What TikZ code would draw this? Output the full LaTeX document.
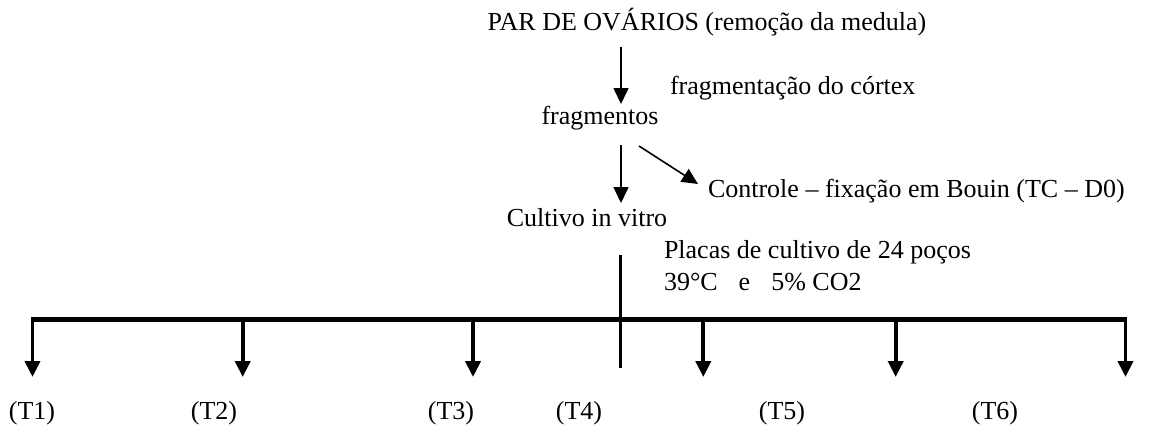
\documentclass[tikz,border=0pt]{standalone}
\usepackage{fontspec}
\setmainfont{Liberation Serif}
\usetikzlibrary{arrows.meta}
\begin{document}
\begin{tikzpicture}[x=1pt,y=-1pt,
  txt/.style={font=\fontsize{26}{31}\selectfont, inner sep=0pt, outer sep=0pt},
  thinarrow/.style={line width=1.6pt, -{Triangle[length=16pt,width=15pt]}},
  thickarrow/.style={line width=3.8pt, -{Triangle[length=16pt,width=15pt]}},
  mainbar/.style={line width=5.3pt},
  stembar/.style={line width=3pt}]
\useasboundingbox (0,0) rectangle (1152,426);

% texts
\node[txt, anchor=base] (par) at (707,30) {PAR DE OVÁRIOS (remoção da medula)};
\node[txt, anchor=base west] (fragc) at (670,94) {fragmentação do córtex};
\node[txt, anchor=base] (fragm) at (600,124) {fragmentos};
\node[txt, anchor=base west] (ctrl) at (708,197) {Controle – fixação em Bouin (TC – D0)};
\node[txt, anchor=base] (cult) at (587,226) {Cultivo in vitro};
\node[txt, anchor=base west] (placasA) at (664,258) {Placas de cultivo de 24 poços};
\node[txt, anchor=base west] (placasB) at (664,290) {39°C\hspace{21pt}e\hspace{21pt}5\% CO2};

% top arrows
\coordinate (a1s) at (621,47);
\coordinate (a1e) at (621,104);
\coordinate (a2s) at (621,145);
\coordinate (a2e) at (621,203);
\coordinate (a3s) at (639,146);
\coordinate (a3e) at (698,184);
\draw[thinarrow] (a1s) -- (a1e);
\draw[thinarrow] (a2s) -- (a2e);
\draw[thinarrow] (a3s) -- (a3e);

% stem and bar
\coordinate (stemT) at (620,255);
\coordinate (stemB) at (620,368);
\draw[stembar] (stemT) -- (stemB);
\coordinate (barL) at (30.6,319.5);
\coordinate (barR) at (1127.4,319.5);
\draw[mainbar] (barL) -- (barR);

% branches
\foreach \n/\x in {1/32.5,2/242.7,3/473,4/703.3,5/895.7,6/1125.5}{
  \coordinate (b\n s) at (\x,319.5);
  \coordinate (b\n e) at (\x,377);
  \draw[thickarrow] (b\n s) -- (b\n e);
}

% labels
\node[txt, anchor=base] (t1) at (32,419) {(T1)};
\node[txt, anchor=base] (t2) at (214,419) {(T2)};
\node[txt, anchor=base] (t3) at (451,419) {(T3)};
\node[txt, anchor=base] (t4) at (579,419) {(T4)};
\node[txt, anchor=base] (t5) at (782,419) {(T5)};
\node[txt, anchor=base] (t6) at (995,419) {(T6)};
\end{tikzpicture}
\end{document}
